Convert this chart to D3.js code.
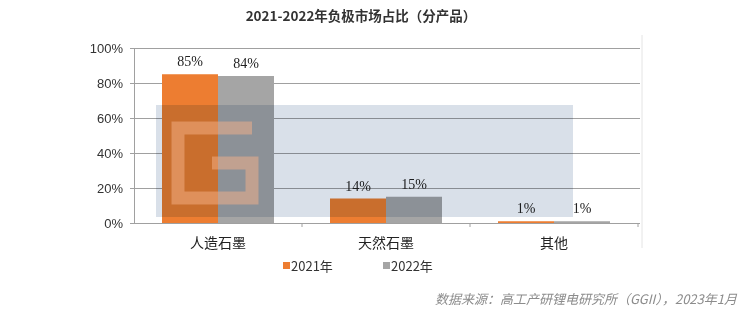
<!DOCTYPE html>
<html>
<head>
<meta charset="utf-8">
<script src="https://cdn.jsdelivr.net/npm/d3@7"></script>
<style>
  body { margin: 0; background: #fff; }
  svg { display: block; }
</style>
</head>
<body>
<div id="chart"></div>
<script>
var categories = ['人造石墨', '天然石墨', '其他']
var seriesNames = ['2021年', '2022年']
var values2021 = [0.85, 0.14, 0.01]
var values2022 = [0.84, 0.15, 0.01]
var yTicks = [0, 0.2, 0.4, 0.6, 0.8, 1]
var colors = ['#ed7d31', '#a5a5a5']

var width = 746
var height = 314
var margin = { top: 48, left: 134, right: 108, bottom: 91 }

var svg = d3
  .select('#chart')
  .append('svg')
  .attr('width', width)
  .attr('height', height)

var rows = categories.map((c, i) => ({ cat: c, vals: [values2021[i], values2022[i]] }))

var x0 = d3.scaleBand()
  .domain(categories)
  .range([margin.left, width - margin.right])

var x1 = d3.scaleBand()
  .domain(seriesNames)
  .range([0, x0.bandwidth()])
  .paddingOuter(0.5)

var y = d3.scaleLinear()
  .domain([0, 1])
  .range([height - margin.bottom, margin.top])

// title
svg.append('text')
  .attr('x', 361)
  .attr('y', 21)
  .attr('text-anchor', 'middle')
  .style('font-family', '"Noto Sans CJK SC", "Noto Sans", sans-serif')
  .style('font-size', '13.5px')
  .style('font-weight', 'bold')
  .attr('fill', '#333')
  .text('2021-2022年负极市场占比（分产品）')

// frame line on the right
svg.append('line')
  .attr('x1', 642).attr('x2', 642)
  .attr('y1', 35).attr('y2', 248)
  .attr('stroke', '#e4e4e4')

// gridlines
svg.append('g')
  .selectAll('line')
  .data(yTicks.filter(d => d > 0))
  .join('line')
  .attr('x1', margin.left)
  .attr('x2', width - margin.right + 2)
  .attr('y1', d => Math.round(y(d)) + 0.5)
  .attr('y2', d => Math.round(y(d)) + 0.5)
  .attr('stroke', '#a0a0a0')

// bars
var groups = svg.append('g')
  .selectAll('g')
  .data(rows)
  .join('g')
  .attr('transform', d => 'translate(' + x0(d.cat) + ',0)')

groups.selectAll('rect')
  .data(d => d.vals.map((v, i) => ({ v: v, s: seriesNames[i], i: i })))
  .join('rect')
  .attr('x', d => x1(d.s))
  .attr('width', x1.bandwidth())
  .attr('y', d => y(d.v))
  .attr('height', d => y(0) - y(d.v))
  .attr('fill', d => colors[d.i])

// y axis
var yAxis = svg.append('g')
  .attr('transform', 'translate(' + margin.left + ',0)')
  .call(d3.axisLeft(y).tickValues(yTicks).tickFormat(d3.format('.0%')).tickSize(4).tickPadding(7))
yAxis.select('.domain').attr('stroke', '#a0a0a0')
yAxis.selectAll('.tick line').attr('stroke', '#a0a0a0')
yAxis.selectAll('text')
  .style('font-family', '"Liberation Sans", Arial, sans-serif')
  .style('font-size', '13px')
  .attr('fill', '#333')

// x axis
var xAxis = svg.append('g')
  .attr('transform', 'translate(0,' + y(0) + ')')
xAxis.append('line')
  .attr('x1', margin.left).attr('x2', width - margin.right + 2)
  .attr('y1', 0.5).attr('y2', 0.5)
  .attr('stroke', '#a0a0a0')
xAxis.selectAll('.xtick')
  .data(categories.slice(1).concat(['end']))
  .join('line')
  .attr('class', 'xtick')
  .attr('x1', d => d === 'end' ? width - margin.right : x0(d))
  .attr('x2', d => d === 'end' ? width - margin.right : x0(d))
  .attr('y1', 0).attr('y2', 4)
  .attr('stroke', '#a0a0a0')
xAxis.selectAll('.xlabel')
  .data(categories)
  .join('text')
  .attr('class', 'xlabel')
  .attr('x', d => x0(d) + x0.bandwidth() / 2)
  .attr('y', 25)
  .attr('text-anchor', 'middle')
  .style('font-family', '"Noto Sans CJK SC", sans-serif')
  .style('font-size', '14px')
  .attr('fill', '#222')
  .text(d => d)

// watermark (tinted band + logo mark)
var wm = svg.append('g')
wm.append('rect')
  .attr('x', 156).attr('y', 105)
  .attr('width', 417).attr('height', 112)
  .attr('fill', '#d9e0e9')
  .style('mix-blend-mode', 'multiply')
wm.append('path')
  .attr('d', 'M252,128 H178 V198 H252 V163 H212')
  .attr('fill', 'none')
  .attr('stroke', '#f6b28a')
  .attr('stroke-width', 13)
  .attr('opacity', 0.5)

// value labels
groups.selectAll('.val')
  .data(d => d.vals.map((v, i) => ({ v: v, s: seriesNames[i] })))
  .join('text')
  .attr('class', 'val')
  .attr('x', d => x1(d.s) + x1.bandwidth() / 2)
  .attr('y', d => y(d.v) - 8)
  .attr('text-anchor', 'middle')
  .style('font-family', '"Liberation Serif", "Times New Roman", serif')
  .style('font-size', '14px')
  .attr('fill', '#222')
  .text(d => d3.format('.0%')(d.v))

// legend
var legend = svg.append('g')
  .selectAll('g')
  .data(seriesNames)
  .join('g')
  .attr('transform', (d, i) => 'translate(' + (283 + i * 100) + ',266)')
legend.append('rect')
  .attr('x', 0).attr('y', -4)
  .attr('width', 7).attr('height', 7)
  .attr('fill', (d, i) => colors[i])
legend.append('text')
  .attr('x', 8)
  .attr('y', 5)
  .style('font-family', '"Noto Sans CJK SC", sans-serif')
  .style('font-size', '13px')
  .attr('fill', '#333')
  .text(d => d)

// source note
svg.append('text')
  .attr('x', 737)
  .attr('y', 304)
  .attr('text-anchor', 'end')
  .style('font-family', '"Noto Sans CJK SC", sans-serif')
  .style('font-size', '13px')
  .style('font-style', 'italic')
  .attr('fill', '#8c8c8c')
  .text('数据来源：高工产研锂电研究所（GGII），2023年1月')
</script>
</body>
</html>
